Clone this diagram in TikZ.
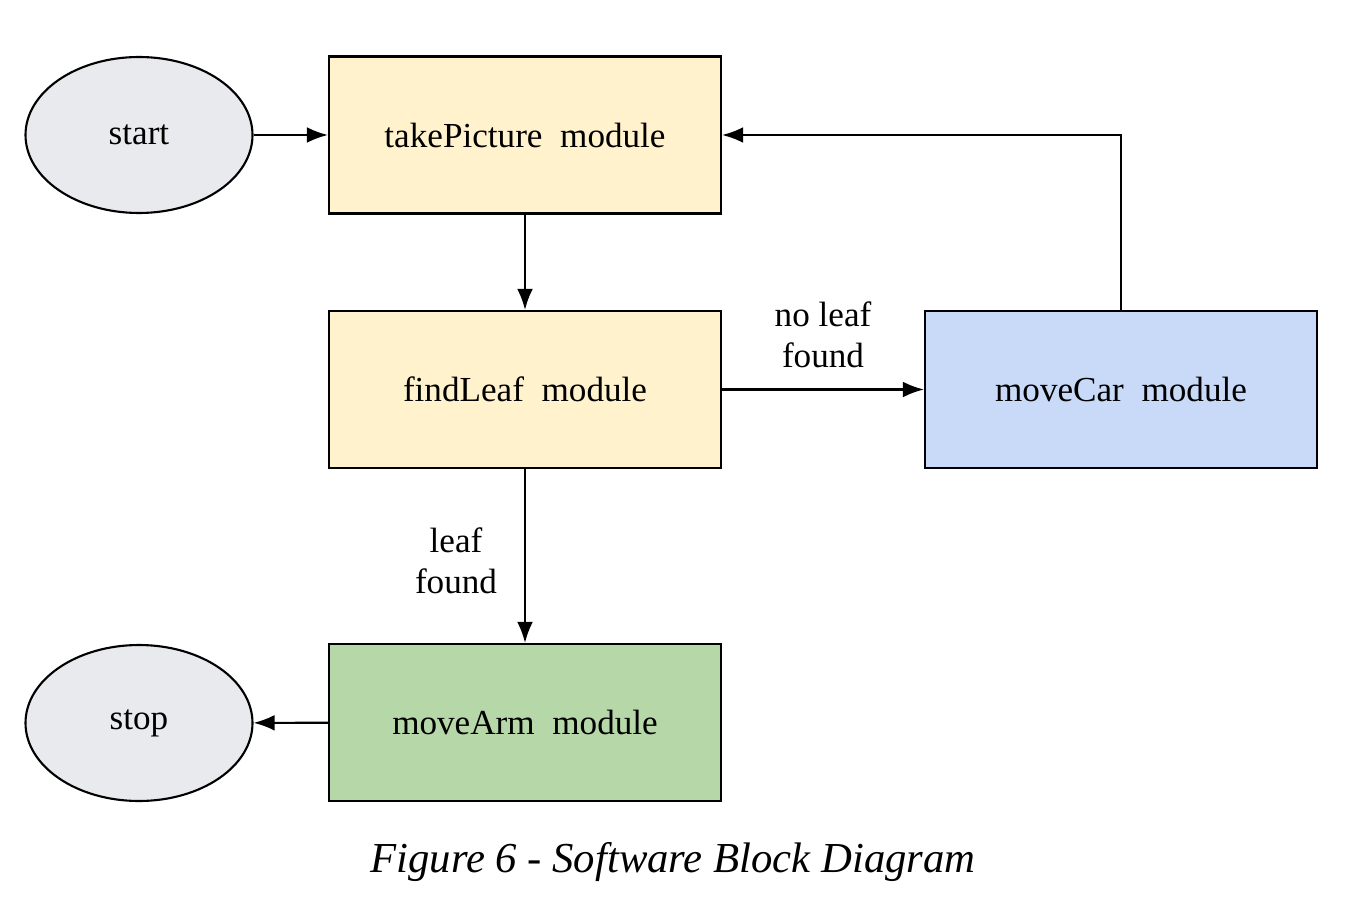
\documentclass[tikz,border=0pt]{standalone}
\usepackage{fontspec}
\setmainfont{Liberation Serif}
\usetikzlibrary{arrows.meta,shapes.geometric}

\definecolor{endgray}{RGB}{232, 234, 237}
\definecolor{modyellow}{RGB}{255, 242, 204}
\definecolor{carblue}{RGB}{201, 218, 248}
\definecolor{armgreen}{RGB}{182, 215, 168}

\begin{document}
\begin{tikzpicture}[>={Latex[length=12pt,width=9pt]}, line width=1.2pt,
    every node/.style={font=\fontsize{20}{23}\selectfont},
    terminal/.style={ellipse, draw, fill=endgray, minimum width=4.54cm, minimum height=3.12cm},
    module/.style={rectangle, draw, minimum width=7.84cm, minimum height=3.14cm},
    branch/.style={align=center}]
    % 1. Khung hình
    \useasboundingbox (0,0) rectangle (27,-18.28);

    % 2. Các khối
    \node[terminal] (start) at (2.78,-2.70) {start};
    \node[module, fill=modyellow] (takepic) at (10.5,-2.70) {takePicture\ \ module};
    \node[module, fill=modyellow] (findleaf) at (10.5,-7.79) {findLeaf\ \ module};
    \node[module, fill=carblue] (movecar) at (22.42,-7.79) {moveCar\ \ module};
    \node[module, fill=armgreen] (movearm) at (10.5,-14.45) {moveArm\ \ module};
    \node[terminal] (stop) at (2.78,-14.46) {stop};

    % 3. Mũi tên
    \draw[->] (start) -- (takepic);
    \draw[->] (takepic) -- (findleaf);
    \draw[->] (findleaf) -- (movecar);
    \draw[->] (findleaf) -- (movearm);
    \draw[->] (movearm) -- (stop);
    \draw[->] (movecar.north) |- (takepic.east);

    % 4. Nhãn
    \node[branch] (nolabel) at (16.46,-6.70) {no leaf\\found};
    \node[branch] (yeslabel) at (9.12,-11.22) {leaf\\found};

    % 5. Chú thích
    \node[font=\fontsize{24.3}{28}\selectfont\itshape] (caption) at (13.46,-17.24) {Figure 6 - Software Block Diagram};
\end{tikzpicture}
\end{document}
